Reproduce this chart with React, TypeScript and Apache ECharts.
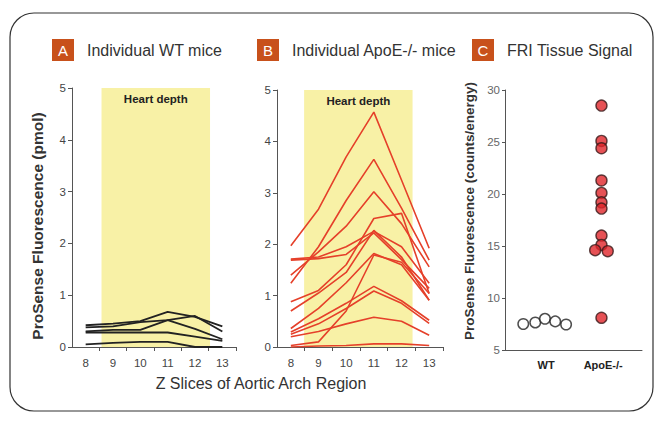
import React, { useEffect, useRef } from "react";
import * as echarts from "echarts";

const xSlices = [8, 9, 10, 11, 12, 13];
const xTickBounds = [8.5, 9.5, 10.5, 11.5, 12.5, 13.5];

const wtLines = [
  [0.42, 0.45, 0.5, 0.68, 0.58, 0.4],
  [0.38, 0.4, 0.48, 0.52, 0.6, 0.3],
  [0.3, 0.33, 0.33, 0.52, 0.35, 0.15],
  [0.28, 0.28, 0.28, 0.28, 0.2, 0.12],
  [0.05, 0.08, 0.1, 0.1, 0.0, 0.0],
];

const apoeLines = [
  [1.97, 2.68, 3.7, 4.57, 3.25, 1.92],
  [1.24, 1.95, 2.85, 3.65, 2.7, 1.69],
  [1.4, 1.85, 2.35, 3.02, 2.4, 1.56],
  [1.71, 1.75, 1.95, 2.25, 1.95, 1.24],
  [1.69, 1.72, 1.8, 2.22, 1.7, 1.14],
  [0.88, 1.1, 1.6, 2.5, 2.6, 1.04],
  [0.7, 1.05, 1.45, 2.27, 1.75, 0.91],
  [0.36, 0.75, 1.25, 1.82, 1.6, 0.91],
  [0.03, 0.1, 0.7, 1.79, 1.65, 1.04],
  [0.29, 0.55, 0.85, 1.18, 0.9, 0.52],
  [0.25, 0.45, 0.75, 1.09, 0.85, 0.46],
  [0.2, 0.3, 0.45, 0.58, 0.5, 0.23],
  [0.0, 0.02, 0.03, 0.06, 0.06, 0.03],
];

const heartDepthA = [8.58, 12.55];
const heartDepthB = [8.48, 12.4];

const groups = ["WT", "ApoE-/-"];
const wtSignal = [7.5, 7.65, 8.0, 7.75, 7.45];
const wtJitter = [-0.4, -0.19, -0.02, 0.16, 0.35];
const apoeSignal = [28.5, 25.1, 24.4, 21.3, 20.1, 19.2, 18.6, 16.0, 15.1, 14.6, 14.5, 8.1];
const apoeJitter = [-0.03, -0.03, -0.03, -0.03, -0.03, -0.03, -0.03, -0.03, -0.03, -0.14, 0.08, -0.03];

const panelTitles = [
  { letter: "A", text: "Individual WT mice", x: 52 },
  { letter: "B", text: "Individual ApoE-/- mice", x: 257 },
  { letter: "C", text: "FRI Tissue Signal", x: 472 },
];

const FONT = "'Liberation Sans', Arial, sans-serif";
const AXIS_COLOR = "#555";
const LABEL_COLOR = "#444";
const BAND_COLOR = "#f8f1a6";
const RED = "#e5402a";
const ORANGE = "#c8511b";

function lineAxisX(gridIndex: number) {
  return {
    type: "value",
    gridIndex,
    min: 7.5,
    max: 13.5,
    axisLine: { show: true, lineStyle: { color: AXIS_COLOR, width: 1 } },
    axisTick: { show: true, length: 4, customValues: xTickBounds, lineStyle: { color: AXIS_COLOR } },
    axisLabel: { customValues: xSlices, color: LABEL_COLOR, fontSize: 11.5, margin: 10, fontFamily: FONT },
    splitLine: { show: false },
  };
}

function lineAxisY(gridIndex: number) {
  return {
    type: "value",
    gridIndex,
    min: 0,
    max: 5,
    interval: 1,
    axisLine: { show: true, lineStyle: { color: AXIS_COLOR, width: 1 } },
    axisTick: { show: true, length: 4, lineStyle: { color: AXIS_COLOR } },
    axisLabel: { color: LABEL_COLOR, fontSize: 11.5, margin: 6, fontFamily: FONT },
    splitLine: { show: false },
  };
}

function band(range: number[]) {
  return {
    silent: true,
    itemStyle: { color: BAND_COLOR },
    label: {
      show: true,
      position: "insideTop",
      distance: 5,
      formatter: "Heart depth",
      fontWeight: "bold",
      fontSize: 11.5,
      color: "#222",
      fontFamily: FONT,
    },
    data: [[{ xAxis: range[0] }, { xAxis: range[1] }]],
  };
}

export default function App() {
  const ref = useRef<HTMLDivElement>(null);

  useEffect(() => {
    if (!ref.current) return;
    const chart = echarts.init(ref.current, null, { renderer: "svg" });

    const seriesA = wtLines.map((row, k) => ({
      type: "line",
      xAxisIndex: 0,
      yAxisIndex: 0,
      data: xSlices.map((x, i) => [x, row[i]]),
      symbol: "none",
      lineStyle: { color: "#222", width: 1.8 },
      markArea: k === 0 ? band(heartDepthA) : undefined,
    }));

    const seriesB = apoeLines.map((row, k) => ({
      type: "line",
      xAxisIndex: 1,
      yAxisIndex: 1,
      data: xSlices.map((x, i) => [x, row[i]]),
      symbol: "none",
      lineStyle: { color: RED, width: 1.6 },
      markArea: k === 0 ? band(heartDepthB) : undefined,
    }));

    const seriesC = [
      {
        type: "scatter",
        xAxisIndex: 2,
        yAxisIndex: 2,
        data: wtSignal.map((v, i) => [1 + wtJitter[i], v]),
        symbolSize: 10.5,
        itemStyle: { color: "#fff", borderColor: "#222", borderWidth: 1.5 },
      },
      {
        type: "scatter",
        xAxisIndex: 2,
        yAxisIndex: 2,
        data: apoeSignal.map((v, i) => [2 + apoeJitter[i], v]),
        symbolSize: 11,
        itemStyle: { color: "#e0262a", borderColor: "#3a1a1a", borderWidth: 1.4 },
      },
    ];

    const graphics: any[] = [
      {
        type: "rect",
        shape: { x: 10, y: 13, width: 643, height: 398, r: 24 },
        style: { fill: "none", stroke: "#333", lineWidth: 1.2 },
        silent: true,
      },
      {
        type: "text",
        x: 261,
        y: 383,
        style: {
          text: "Z Slices of Aortic Arch Region",
          fill: "#333",
          fontSize: 16,
          fontFamily: FONT,
          textAlign: "center",
          textVerticalAlign: "middle",
        },
      },
      {
        type: "text",
        x: 37,
        y: 226,
        rotation: Math.PI / 2,
        style: {
          text: "ProSense Fluorescence (pmol)",
          fill: "#333",
          fontSize: 15.5,
          fontWeight: "bold",
          fontFamily: FONT,
          textAlign: "center",
          textVerticalAlign: "middle",
        },
      },
      {
        type: "text",
        x: 469,
        y: 211,
        rotation: Math.PI / 2,
        style: {
          text: "ProSense Fluorescence (counts/energy)",
          fill: "#333",
          fontSize: 13.5,
          fontWeight: "bold",
          fontFamily: FONT,
          textAlign: "center",
          textVerticalAlign: "middle",
        },
      },
    ];
    panelTitles.forEach((t) => {
      graphics.push({
        type: "rect",
        shape: { x: t.x, y: 39, width: 22, height: 22 },
        style: { fill: ORANGE },
      });
      graphics.push({
        type: "text",
        x: t.x + 11,
        y: 50,
        style: {
          text: t.letter,
          fill: "#fff",
          fontSize: 15,
          fontFamily: FONT,
          textAlign: "center",
          textVerticalAlign: "middle",
        },
      });
      graphics.push({
        type: "text",
        x: t.x + 35,
        y: 50,
        style: {
          text: t.text,
          fill: "#333",
          fontSize: 16,
          fontFamily: FONT,
          textAlign: "left",
          textVerticalAlign: "middle",
        },
      });
    });

    chart.setOption({
      animation: false,
      backgroundColor: "#fff",
      textStyle: { fontFamily: FONT },
      grid: [
        { left: 72, width: 164, top: 88, bottom: 76 },
        { left: 277, width: 166, top: 90, bottom: 76 },
        { left: 505, width: 137, top: 90, bottom: 73 },
      ],
      xAxis: [
        lineAxisX(0),
        lineAxisX(1),
        {
          type: "value",
          gridIndex: 2,
          min: 0.28,
          max: 2.68,
          axisLine: { show: true, lineStyle: { color: AXIS_COLOR, width: 1 } },
          axisTick: { show: false },
          axisLabel: {
            customValues: [1, 2],
            formatter: (v: number) => groups[Math.round(v) - 1] || "",
            color: "#222",
            fontWeight: "bold",
            fontSize: 11,
            margin: 9,
            fontFamily: FONT,
          },
          splitLine: { show: false },
        },
      ],
      yAxis: [
        lineAxisY(0),
        lineAxisY(1),
        {
          type: "value",
          gridIndex: 2,
          min: 5,
          max: 30,
          interval: 5,
          axisLine: { show: true, lineStyle: { color: AXIS_COLOR, width: 1 } },
          axisTick: { show: true, length: 3, lineStyle: { color: AXIS_COLOR } },
          axisLabel: { color: "#666", fontSize: 11.5, margin: 5, fontFamily: FONT },
          splitLine: { show: false },
        },
      ],
      series: [...seriesA, ...seriesB, ...seriesC],
      graphic: graphics,
    });

    return () => chart.dispose();
  }, []);

  return (
    <div
      ref={ref}
      style={{ position: "absolute", left: 0, top: 0, width: 656, height: 423 }}
    />
  );
}
